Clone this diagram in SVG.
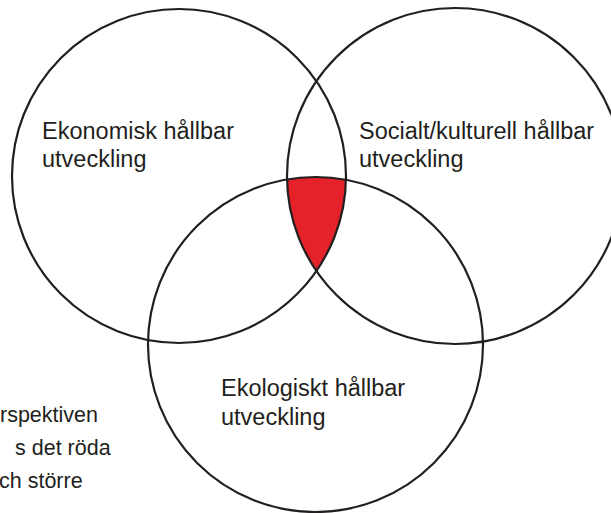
<svg xmlns="http://www.w3.org/2000/svg" width="611" height="513" viewBox="0 0 611 513">
<style>
.c{fill:none;stroke:#231f20;stroke-width:2.2}
.t{font-family:"Liberation Sans",Arial,sans-serif;font-size:23.5px;fill:#231f20}
.s{font-family:"Liberation Sans",Arial,sans-serif;font-size:21.5px;fill:#231f20}
</style>
<defs>
<clipPath id="clipL"><circle cx="179" cy="176" r="167"/></clipPath>
<clipPath id="clipR"><circle cx="455" cy="176" r="168"/></clipPath>
</defs>
<rect width="611" height="513" fill="#fff"/>
<g id="overlap" clip-path="url(#clipL)">
<circle cx="315.5" cy="344.5" r="167.5" fill="#e52229" clip-path="url(#clipR)"/>
</g>
<g id="connectors"></g>
<g id="ekonomisk">
<circle class="c" cx="179" cy="176" r="167"/>
<text class="t" x="42" y="139">Ekonomisk hållbar</text>
<text class="t" x="42" y="167">utveckling</text>
</g>
<g id="social">
<circle class="c" cx="455" cy="176" r="168"/>
<text class="t" x="359" y="139">Socialt/kulturell hållbar</text>
<text class="t" x="359" y="167">utveckling</text>
</g>
<g id="ekologisk">
<circle class="c" cx="315.5" cy="344.5" r="167.5"/>
<text class="t" x="221" y="396">Ekologiskt hållbar</text>
<text class="t" x="221" y="425">utveckling</text>
</g>
<g id="note">
<text class="s" x="0" y="422">rspektiven</text>
<text class="s" x="15" y="455">s det röda</text>
<text class="s" x="-1" y="488">ch större</text>
</g>
</svg>
